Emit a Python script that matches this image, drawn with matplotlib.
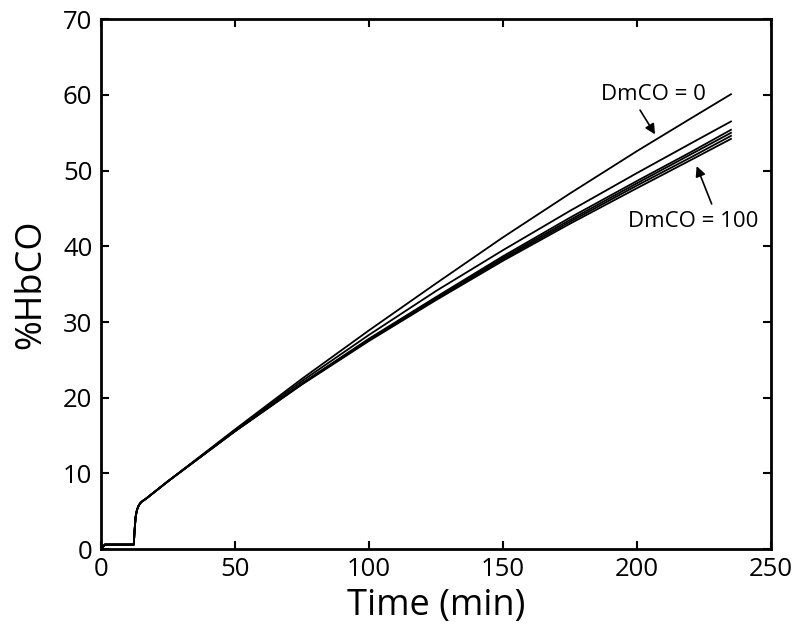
import matplotlib.pyplot as plt

plt.rcParams['font.family'] = ['Open Sans', 'DejaVu Sans']

# time points (min)
time = [0, 1.5, 12.3, 12.6, 13.0, 13.5, 14.2, 15, 17, 25, 50, 75, 100, 125, 150, 175, 200, 220, 235]

# common start of every curve (up to t = 17)
start = [0, 0.6, 0.6, 2.5, 4.3, 5.2, 5.8, 6.2, 6.7]

# %HbCO from t = 25 on, one list per DmCO value (top curve is DmCO = 0, bottom DmCO = 100)
hbco_0 = [8.95, 15.8, 22.5, 28.9, 35.1, 41.2, 47.0, 52.6, 56.9, 60.1]
hbco_20 = [8.95, 15.7, 22.2, 28.3, 34.1, 39.5, 44.7, 49.7, 53.6, 56.5]
hbco_40 = [8.95, 15.6, 21.9, 27.8, 33.3, 38.7, 43.8, 48.65, 52.45, 55.4]
hbco_60 = [8.95, 15.58, 21.85, 27.7, 33.15, 38.5, 43.5, 48.35, 52.15, 55.0]
hbco_80 = [8.95, 15.57, 21.8, 27.6, 33.05, 38.3, 43.25, 48.05, 51.75, 54.6]
hbco_100 = [8.95, 15.55, 21.75, 27.5, 32.9, 38.1, 43.0, 47.7, 51.4, 54.2]

curves = [hbco_0, hbco_20, hbco_40, hbco_60, hbco_80, hbco_100]

fig = plt.figure(figsize=(8, 6.43), dpi=100)
ax = fig.add_axes([0.126, 0.146, 0.838, 0.824])

for c in curves:
    ax.plot(time, start + c, color='black', lw=1.3)

ax.set_xlim(0, 250)
ax.set_ylim(0, 70)
ax.set_xticks([0, 50, 100, 150, 200, 250])
ax.set_yticks(range(0, 71, 10))
ax.tick_params(direction='in', top=True, right=True, length=6, width=1.5,
               labelsize=18.5, pad=6)
for s in ax.spines.values():
    s.set_linewidth(2)

ax.set_xlabel('Time (min)', fontsize=26, labelpad=4)
ax.set_ylabel('%HbCO', fontsize=26, labelpad=10)

# labels and arrows
arrow = dict(arrowstyle='-|>', color='black', lw=1.2, shrinkA=0, shrinkB=0,
             mutation_scale=15)
ax.text(206, 60, 'DmCO = 0', fontsize=16, ha='center', va='center')
ax.annotate('', xy=(206.7, 54.8), xytext=(201.1, 58.0), arrowprops=arrow)
ax.text(221, 43.3, 'DmCO = 100', fontsize=16, ha='center', va='center')
ax.annotate('', xy=(222.2, 50.6), xytext=(227.8, 45.6), arrowprops=arrow)

plt.savefig('out.png', dpi=100)
